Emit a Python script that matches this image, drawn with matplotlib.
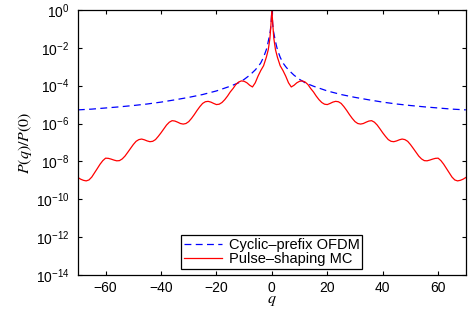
import numpy as np
import matplotlib
matplotlib.use('Agg')
import matplotlib.pyplot as plt

# Values, log10(P(q)/P(0)), for q >= 0 (curves are symmetric)
q_blue_half = [0, 0.3, 0.6, 1, 1.5, 2, 3, 4, 5, 6, 8, 10, 12, 15, 20, 25, 30, 35,
               40, 45, 50, 55, 60, 65, 70]
log_blue_half = [0, -0.75, -1.15, -1.45, -1.8, -2.1, -2.5, -2.8, -3.0, -3.17, -3.45,
                 -3.67, -3.85, -4.03, -4.28, -4.47, -4.62, -4.75, -4.87, -4.97,
                 -5.05, -5.12, -5.18, -5.24, -5.28]

q_red_half = [0, 0.3, 0.7, 1.3, 2, 3, 4, 5, 6, 7, 8, 9, 10, 11, 12, 13, 14, 15, 16,
              17, 18, 19, 20, 21, 22, 23, 24, 25, 26, 27, 28, 29, 30, 31, 32, 33, 34,
              35, 36, 37, 38, 39, 40, 41, 42, 43, 44, 45, 46, 47, 48, 49, 50, 51, 52,
              53, 54, 55, 56, 57, 58, 59, 60, 61, 62, 63, 64, 65, 66, 67, 68, 69, 70]
log_red_half = [0, -0.7, -1.5, -2.1, -2.5, -2.95, -3.2, -3.5, -3.85, -4.07, -3.98,
                -3.85, -3.77, -3.75, -3.81, -3.94, -4.15, -4.33, -4.55, -4.74, -4.89,
                -4.98, -5.0, -4.94, -4.87, -4.83, -4.85, -4.94, -5.11, -5.31, -5.53,
                -5.73, -5.9, -6.0, -6.03, -6.0, -5.93, -5.87, -5.85, -5.93, -6.08,
                -6.28, -6.49, -6.68, -6.85, -6.94, -6.96, -6.92, -6.86, -6.82, -6.85,
                -6.94, -7.11, -7.31, -7.52, -7.72, -7.87, -7.96, -7.97, -7.93, -7.88,
                -7.84, -7.83, -7.96, -8.15, -8.38, -8.61, -8.83, -8.98, -9.03, -9.0,
                -8.94, -8.85]

x_ticks = [-60, -40, -20, 0, 20, 40, 60]
y_tick_exps = [0, -2, -4, -6, -8, -10, -12, -14]
labels = ['Cyclic\u2013prefix OFDM', 'Pulse\u2013shaping MC']


def mirror(q, v):
    q = np.asarray(q, float)
    v = np.asarray(v, float)
    return np.concatenate([-q[:0:-1], q]), np.concatenate([v[:0:-1], v])


plt.rcParams['font.family'] = ['Liberation Sans', 'DejaVu Sans']
plt.rcParams['font.size'] = 10

qb, lb = mirror(q_blue_half, log_blue_half)
qr, lr = mirror(q_red_half, log_red_half)

fig = plt.figure(figsize=(4.72, 3.09), dpi=100)
ax = fig.add_axes([0.165, 0.11, 0.822, 0.858])

ax.semilogy(qb, 10.0 ** lb, color='#0000ff', linestyle=(0, (5.5, 3.5)), linewidth=0.9,
            label=labels[0])
ax.semilogy(qr, 10.0 ** lr, color='#ff0000', linewidth=0.9, label=labels[1])

ax.set_xlim(-70, 70)
ax.set_ylim(1e-14, 1)
ax.set_xticks(x_ticks)
ax.set_yticks([10.0 ** e for e in y_tick_exps])
ax.minorticks_off()
ax.tick_params(direction='in', length=3, top=True, right=True, labelsize=10, pad=4)
ax.tick_params(axis='y', pad=6)
for sp in ax.spines.values():
    sp.set_linewidth(0.9)

ax.set_xlabel('$q$', fontsize=11.5, math_fontfamily='stix', labelpad=-1)
ax.set_ylabel('$P(q)/P(0)$', fontsize=11.5, math_fontfamily='stix', labelpad=1)

leg = ax.legend(loc='lower center', fontsize=10.5, handlelength=2.6, handletextpad=0.45,
                labelspacing=0.0, borderpad=0.2, borderaxespad=0.4, fancybox=False,
                framealpha=1)
leg.get_frame().set_edgecolor('black')
leg.get_frame().set_linewidth(0.9)

fig.savefig('out.png', dpi=100)
